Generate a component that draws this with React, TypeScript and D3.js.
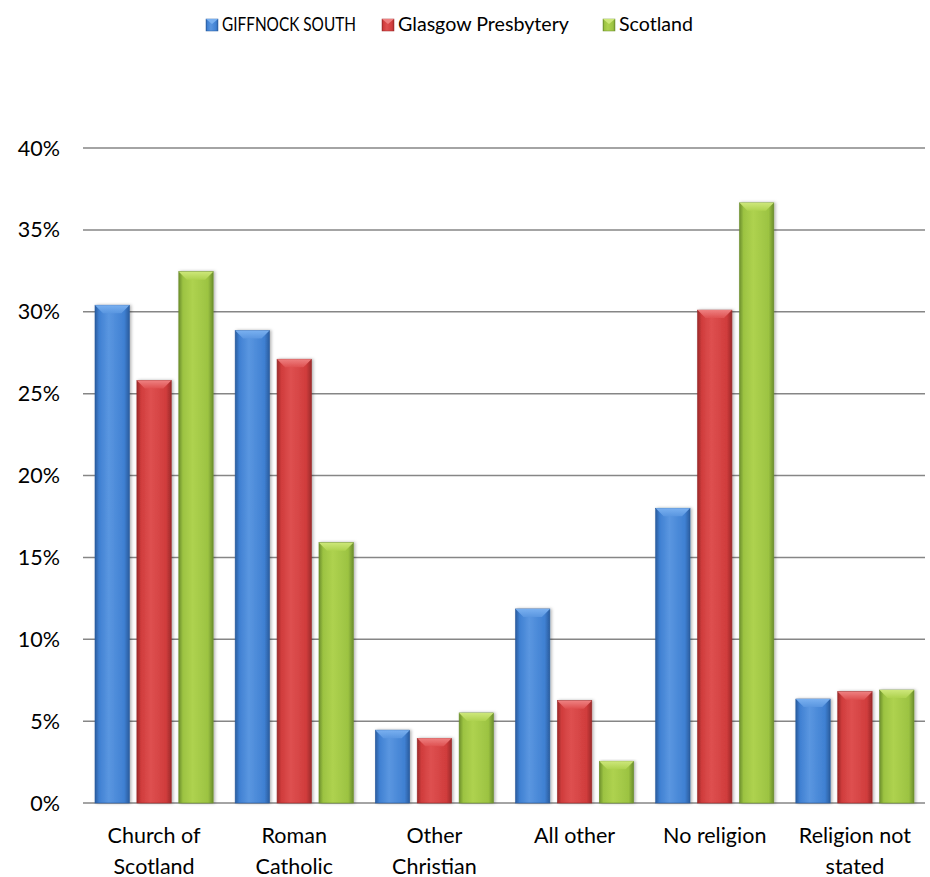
import React from 'react';
import * as d3 from 'd3';

const categories = [
  ['Church of', 'Scotland'],
  ['Roman', 'Catholic'],
  ['Other', 'Christian'],
  ['All other'],
  ['No religion'],
  ['Religion not', 'stated'],
];
const seriesNames = ['GIFFNOCK SOUTH', 'Glasgow Presbytery', 'Scotland'];
const giffnockSouth = [30.4, 28.85, 4.45, 11.85, 18.0, 6.35];
const glasgowPresbytery = [25.8, 27.1, 3.95, 6.25, 30.1, 6.8];
const scotland = [32.45, 15.9, 5.5, 2.55, 36.65, 6.9];
const yTicks = [0, 5, 10, 15, 20, 25, 30, 35, 40];

const palette = [
  { edge: '#2a5c9e', mid: '#3f80d2', hi: '#5a96e0', top: '#79b0f0' },
  { edge: '#9c2a2a', mid: '#d03c3c', hi: '#de5050', top: '#ee8080' },
  { edge: '#6c8f2c', mid: '#9cc342', hi: '#aed24f', top: '#cde77a' },
];

const W = 930;
const H = 877;
const FONT = 'Lato, "Open Sans", sans-serif';

export default function App() {
  const series = [giffnockSouth, glasgowPresbytery, scotland];
  const keys = categories.map((c) => c.join(' '));

  const x = d3.scaleBand<string>().domain(keys).range([84, 925]).paddingInner(0.157).paddingOuter(0.0785);
  const xs = d3.scaleBand<number>().domain([0, 1, 2]).range([0, x.bandwidth()]).paddingInner(0.18);
  const y = d3.scaleLinear().domain([0, 40]).range([803, 148]);

  const bev = 8;
  const legendX = [206, 382, 603];
  const legendW = [134, 171, 74];

  return (
    <svg width={W} height={H} style={{ position: 'absolute', left: 0, top: 0, fontFamily: FONT }}>
      <defs>
        {palette.map((p, i) => (
          <linearGradient key={i} id={`body${i}`} x1="0" x2="1" y1="0" y2="0">
            <stop offset="0" stopColor={p.edge} />
            <stop offset="0.12" stopColor={p.mid} />
            <stop offset="0.4" stopColor={p.hi} />
            <stop offset="0.85" stopColor={p.mid} />
            <stop offset="1" stopColor={p.edge} />
          </linearGradient>
        ))}
        {palette.map((p, i) => (
          <linearGradient key={i} id={`top${i}`} x1="0" x2="0" y1="0" y2="1">
            <stop offset="0" stopColor={p.top} />
            <stop offset="1" stopColor={p.hi} />
          </linearGradient>
        ))}
        <filter id="shadow" x="-20%" y="-5%" width="140%" height="110%">
          <feDropShadow dx="1.5" dy="0" stdDeviation="1.5" floodColor="#000" floodOpacity="0.3" />
        </filter>
      </defs>

      {/* legend */}
      {seriesNames.map((name, i) => (
        <g key={name} transform={`translate(${legendX[i]},19)`}>
          <rect x={0} y={0} width={12} height={12} fill={`url(#body${i})`} stroke={palette[i].edge} strokeWidth={0.5} />
          <polygon points="0,0 12,0 6,5" fill={palette[i].top} />
          <text x={16} y={12} fontSize={19.5} fill="#000" textLength={legendW[i]} lengthAdjust="spacingAndGlyphs">
            {name}
          </text>
        </g>
      ))}

      {/* gridlines */}
      {yTicks.map((t) => (
        <g key={t}>
          <line x1={83} x2={925} y1={y(t)} y2={y(t)} stroke="#868686" strokeWidth={1.5} />
          <text x={60} y={y(t) + 7.5} textAnchor="end" fontSize={21.5} fill="#000">{`${t}%`}</text>
        </g>
      ))}

      {/* bars */}
      {keys.map((k, ci) => (
        <g key={k} transform={`translate(${x(k)},0)`}>
          {series.map((vals, si) => {
            const bx = xs(si)!;
            const bw = xs.bandwidth();
            const top = y(vals[ci]);
            const h = y(0) - top;
            const b = Math.min(bev, h / 2);
            return (
              <g key={si} filter="url(#shadow)">
                <rect x={bx} y={top} width={bw} height={h} fill={`url(#body${si})`} stroke={palette[si].edge} strokeWidth={0.6} />
                <polygon
                  points={`${bx},${top} ${bx + bw},${top} ${bx + bw - b},${top + b} ${bx + b},${top + b}`}
                  fill={`url(#top${si})`}
                />
              </g>
            );
          })}
          {categories[ci].map((line, li) => (
            <text
              key={li}
              x={x.bandwidth() / 2}
              y={843 + li * 30.5}
              textAnchor="middle"
              fontSize={21.5}
              fill="#000"
            >
              {line}
            </text>
          ))}
        </g>
      ))}
    </svg>
  );
}
